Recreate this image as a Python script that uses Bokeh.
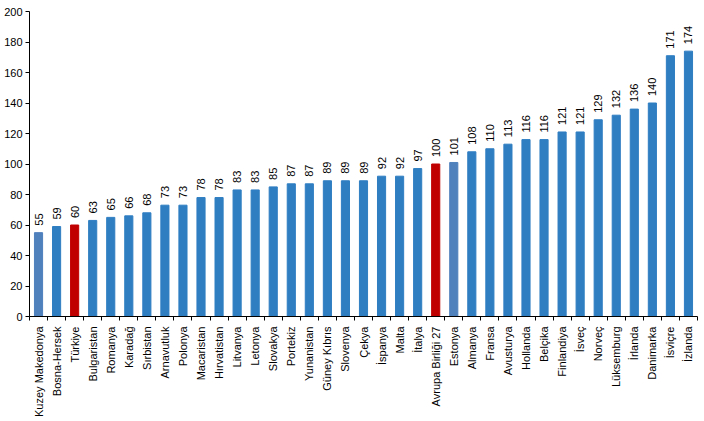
import math
from bokeh.plotting import figure
from bokeh.models import ColumnDataSource, Range1d, FixedTicker
from bokeh.core.properties import value
from bokeh.embed import file_html
from bokeh.resources import INLINE

countries = ["Kuzey Makedonya", "Bosna-Hersek", "Türkiye", "Bulgaristan", "Romanya", "Karadağ",
             "Sırbistan", "Arnavutluk", "Polonya", "Macaristan", "Hırvatistan", "Litvanya",
             "Letonya", "Slovakya", "Portekiz", "Yunanistan", "Güney Kıbrıs", "Slovenya",
             "Çekya", "İspanya", "Malta", "İtalya", "Avrupa Birliği 27", "Estonya", "Almanya",
             "Fransa", "Avusturya", "Hollanda", "Belçika", "Finlandiya", "İsveç", "Norveç",
             "Lüksemburg", "İrlanda", "Danimarka", "İsviçre", "İzlanda"]
values = [55, 59, 60, 63, 65, 66, 68, 73, 73, 78, 78, 83, 83, 85, 87, 87, 89, 89, 89, 92, 92,
          97, 100, 101, 108, 110, 113, 116, 116, 121, 121, 129, 132, 136, 140, 171, 174]
yticks = [0, 20, 40, 60, 80, 100, 120, 140, 160, 180, 200]

BLUE = "#2F7EC2"
RED = "#C00000"
STEEL = "#4F81BD"
colors = []
for c in countries:
    if c in ("Türkiye", "Avrupa Birliği 27"):
        colors.append(RED)
    elif c in ("Kuzey Makedonya", "Estonya"):
        colors.append(STEEL)
    else:
        colors.append(BLUE)

xs = list(range(len(countries)))
src = ColumnDataSource(dict(x=xs, v=values, c=colors, lbl=[str(v) for v in values]))

p = figure(width=704, height=421, output_backend="svg", toolbar_location=None,
           x_range=Range1d(-0.5, len(countries) - 0.5), y_range=Range1d(0, 200),
           min_border_left=29, min_border_right=7, min_border_top=11, min_border_bottom=105)
p.outline_line_color = None
p.xgrid.visible = False
p.ygrid.visible = False

p.vbar(x="x", top="v", width=0.45, color="c", source=src)
p.text(x="x", y="v", text="lbl", source=src, angle=math.pi / 2, y_offset=-7,
       text_align="left", text_baseline="middle", text_font=value("Liberation Sans"),
       text_font_size="11px", text_color="black")

ya = p.yaxis[0]
ya.ticker = FixedTicker(ticks=yticks)
ya.axis_line_color = "black"
ya.major_tick_in = 0
ya.major_tick_out = 4
ya.minor_tick_line_color = None
ya.major_label_text_font = "Liberation Sans"
ya.major_label_text_font_size = "11px"
ya.major_label_text_color = "black"
ya.major_label_standoff = 3

xa = p.xaxis[0]
xa.ticker = FixedTicker(ticks=xs, minor_ticks=[i - 0.5 for i in range(len(countries) + 1)])
xa.major_label_overrides = {i: c for i, c in enumerate(countries)}
xa.major_label_orientation = math.pi / 2
xa.major_tick_line_color = None
xa.minor_tick_in = 0
xa.minor_tick_out = 4
xa.minor_tick_line_color = "black"
xa.axis_line_color = "black"
xa.major_label_text_font = "Liberation Sans"
xa.major_label_text_font_size = "11px"
xa.major_label_text_color = "black"
xa.major_label_standoff = 4

open("out.html", "w").write(file_html(p, INLINE))
